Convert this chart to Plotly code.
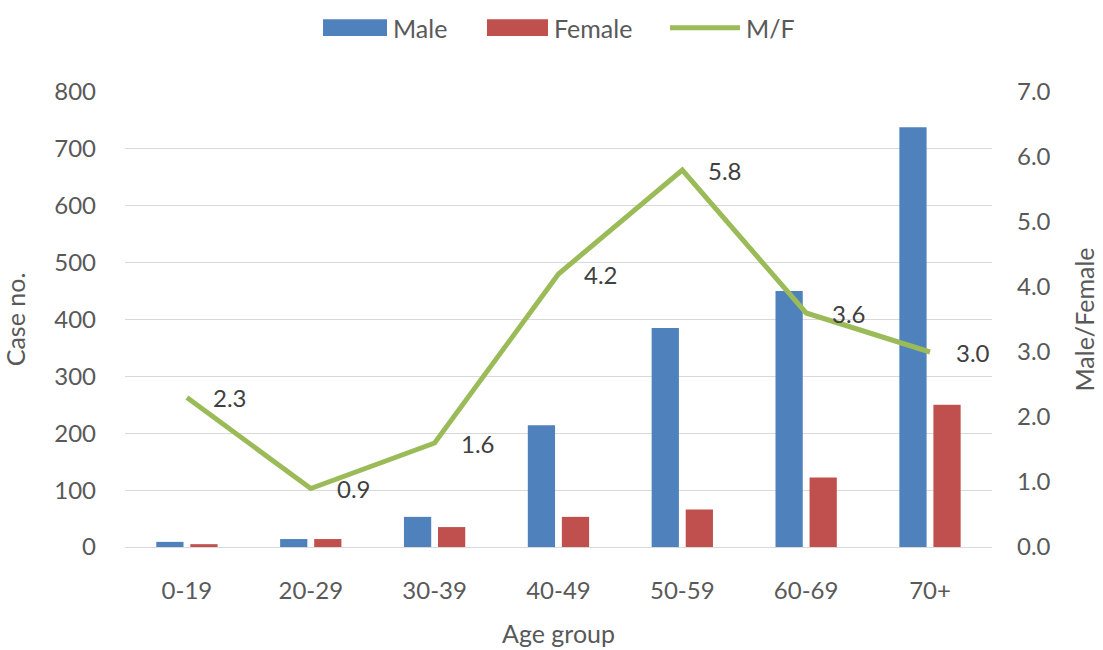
import plotly.graph_objects as go

age_groups = ["0-19", "20-29", "30-39", "40-49", "50-59", "60-69", "70+"]
male_cases = [9, 14, 53, 214, 385, 450, 738]
female_cases = [5, 14, 35, 53, 66, 122, 250]
mf_ratio = [2.3, 0.9, 1.6, 4.2, 5.8, 3.6, 3.0]

left_ticks = [0, 100, 200, 300, 400, 500, 600, 700, 800]
right_ticks = [0.0, 1.0, 2.0, 3.0, 4.0, 5.0, 6.0, 7.0]

COLORS = {"Male": "#4F81BD", "Female": "#C0504D", "M/F": "#9BBB59"}
FONT = "Lato, Open Sans, sans-serif"
TXT = "#595959"
TICK_SIZE = 24

fig = go.Figure()
fig.add_trace(go.Bar(x=age_groups, y=male_cases, name="Male", showlegend=False,
                     marker=dict(color=COLORS["Male"], line=dict(width=0))))
fig.add_trace(go.Bar(x=age_groups, y=female_cases, name="Female", showlegend=False,
                     marker=dict(color=COLORS["Female"], line=dict(width=0))))
fig.add_trace(go.Scatter(x=age_groups, y=mf_ratio, name="M/F", yaxis="y2", showlegend=False,
                         mode="lines", line=dict(color=COLORS["M/F"], width=5)))

# value labels to the right of each ratio point
for g, v in zip(age_groups, mf_ratio):
    fig.add_annotation(x=g, y=v, yref="y2", text=f"{v:.1f}", showarrow=False,
                       xanchor="left", yanchor="middle", xshift=24,
                       font=dict(family=FONT, size=TICK_SIZE, color="#404040"))

# legend row above the plot: wide swatches followed by the series name
legend_items = [("Male", "bar", 0.2284, 0.3022),
                ("Female", "bar", 0.4175, 0.4879),
                ("M/F", "line", 0.6286, 0.7093)]
ly0, ly1, lyc = 1.123, 1.160, 1.141
for name, kind, sx0, sx1 in legend_items:
    if kind == "bar":
        fig.add_shape(type="rect", xref="paper", yref="paper", x0=sx0, x1=sx1,
                      y0=ly0, y1=ly1, fillcolor=COLORS[name], line=dict(width=0))
    else:
        fig.add_shape(type="line", xref="paper", yref="paper", x0=sx0, x1=sx1,
                      y0=lyc, y1=lyc, line=dict(color=COLORS[name], width=5))
    fig.add_annotation(xref="paper", yref="paper", x=sx1, y=lyc, text=name,
                       showarrow=False, xanchor="left", yanchor="middle", xshift=4,
                       font=dict(family=FONT, size=25, color=TXT))

fig.update_layout(
    width=1103, height=650,
    margin=dict(l=125, r=111, t=92, b=103),
    paper_bgcolor="white", plot_bgcolor="white",
    barmode="group", bargap=0.45, bargroupgap=0.2,
    font=dict(family=FONT, size=TICK_SIZE, color=TXT),
    showlegend=False,
    xaxis=dict(title=dict(text="Age group", font=dict(size=25, color=TXT), standoff=22),
               automargin=False,
               showgrid=False, showline=True, linecolor="#D9D9D9", linewidth=1,
               ticks="", tickfont=dict(size=TICK_SIZE, color=TXT), ticklabelstandoff=22),
    yaxis=dict(title=dict(text="Case no.", font=dict(size=25, color=TXT), standoff=24),
               automargin=False,
               range=[0, 800], tickvals=left_ticks, showgrid=True,
               gridcolor="#D9D9D9", gridwidth=1, zeroline=False, showline=False,
               tickfont=dict(size=TICK_SIZE, color=TXT), ticklabelstandoff=28),
    yaxis2=dict(title=dict(text="Male/Female", font=dict(size=25, color=TXT), standoff=26),
                automargin=False,
                overlaying="y", side="right", range=[0, 7], tickvals=right_ticks,
                tickformat=".1f", showgrid=False, zeroline=False, showline=False,
                tickfont=dict(size=TICK_SIZE, color=TXT), ticklabelstandoff=24),
)

fig.write_html("out.html")
